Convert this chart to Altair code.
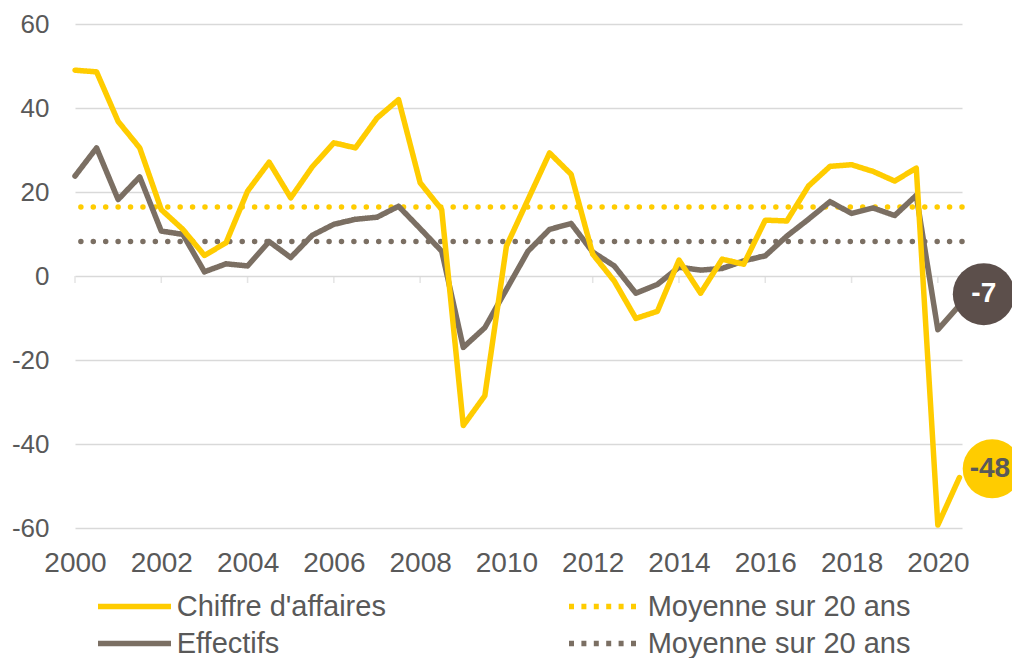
import altair as alt
import pandas as pd

# half-year periods
periods = [2000.0, 2000.5, 2001.0, 2001.5, 2002.0, 2002.5, 2003.0, 2003.5,
           2004.0, 2004.5, 2005.0, 2005.5, 2006.0, 2006.5, 2007.0, 2007.5,
           2008.0, 2008.5, 2009.0, 2009.5, 2010.0, 2010.5, 2011.0, 2011.5,
           2012.0, 2012.5, 2013.0, 2013.5, 2014.0, 2014.5, 2015.0, 2015.5,
           2016.0, 2016.5, 2017.0, 2017.5, 2018.0, 2018.5, 2019.0, 2019.5,
           2020.0, 2020.5]

chiffre = [49.0, 48.6, 36.8, 30.5, 15.8, 11.1, 4.9, 7.9,
           20.2, 27.1, 18.6, 26.0, 31.7, 30.5, 37.6, 42.0,
           22.2, 15.8, -35.6, -28.5, 7.1, 18.2, 29.3, 24.2,
           5.2, -1.2, -10.1, -8.4, 3.8, -4.1, 4.0, 2.8,
           13.3, 13.1, 21.4, 26.1, 26.5, 24.9, 22.6, 25.7,
           -59.3, -48.0]

effectifs = [23.8, 30.5, 18.2, 23.6, 10.7, 9.9, 1.0, 2.9,
             2.4, 8.2, 4.4, 9.7, 12.3, 13.5, 14.0, 16.6,
             11.3, 5.9, -17.0, -12.3, -3.2, 5.9, 11.1, 12.5,
             5.7, 2.4, -4.1, -2.0, 2.1, 1.4, 1.8, 3.6,
             4.8, 9.5, 13.5, 17.7, 14.9, 16.2, 14.4, 19.2,
             -12.8, -7.0]

moy_chiffre = 16.4
moy_effectifs = 8.2

year_ticks = [2000, 2002, 2004, 2006, 2008, 2010, 2012, 2014, 2016, 2018, 2020]
y_ticks = [-60, -40, -20, 0, 20, 40, 60]

CA = "Chiffre d'affaires"
MOY_CA = "Moyenne sur 20 ans"
EFF = "Effectifs"
MOY_EFF = "Moyenne sur 20 ans "   # trailing space keeps the two entries distinct
series_names = [CA, EFF, MOY_CA, MOY_EFF]

last_effectifs_label = "-7"
last_chiffre_label = "-48"

YEL = "#FFCC00"
GRY = "#7B6F63"
DARK = "#5C4F4B"
TXT = "#595959"
GRID = "#D9D9D9"
FONT = "Liberation Sans"

ca_df = pd.DataFrame({"x": periods, "y": chiffre, "s": [CA] * len(periods)})
eff_df = pd.DataFrame({"x": periods, "y": effectifs, "s": [EFF] * len(periods)})
moy_df = pd.DataFrame({"y": [moy_chiffre, moy_effectifs], "s": [MOY_CA, MOY_EFF]})
tick_df = pd.DataFrame({"x": year_ticks})
lab_eff = pd.DataFrame({"x": [periods[-1]], "y": [effectifs[-1]], "t": [last_effectifs_label]})
lab_ca = pd.DataFrame({"x": [periods[-1]], "y": [chiffre[-1]], "t": [last_chiffre_label]})

xscale = alt.Scale(domain=[2000, 2020.56], nice=False, zero=False)
yscale = alt.Scale(domain=[-60, 60], nice=False, zero=False)

xaxis = alt.Axis(values=year_ticks, format="d", ticks=False, domain=False, grid=False,
                 labelFontSize=28, labelColor=TXT, labelFont=FONT, labelPadding=21,
                 title=None, labelFlush=False, labelOverlap=False)
yaxis = alt.Axis(values=y_ticks, grid=True, gridColor=GRID, gridWidth=1.5, ticks=False,
                 domain=False, labelFontSize=26, labelColor=TXT, labelFont=FONT,
                 labelPadding=26, title=None, labelExpr="datum.value + ''")

X = alt.X("x:Q", scale=xscale, axis=xaxis)
Y = alt.Y("y:Q", scale=yscale, axis=yaxis)

legend = alt.Legend(title=None, orient="none", legendX=20, legendY=564, columns=2,
                    symbolType="stroke", symbolSize=5329, symbolStrokeWidth=5.5,
                    labelFontSize=29, labelColor=TXT, labelFont=FONT, labelLimit=500,
                    labelOffset=2.7, columnPadding=180, rowPadding=0, clipHeight=37,
                    padding=0)

color = alt.Color("s:N", scale=alt.Scale(domain=series_names, range=[YEL, GRY, YEL, GRY]),
                  legend=legend)
dash = alt.StrokeDash("s:N", scale=alt.Scale(domain=series_names,
                                             range=[[1, 0], [1, 0], [5, 7.4], [5, 7.4]]),
                      legend=legend)

ticks = alt.Chart(tick_df).mark_tick(orient="vertical", size=7, thickness=1.5,
                                     color=GRID, yOffset=3.5).encode(
    x=X, y=alt.datum(0))

means = alt.Chart(moy_df).mark_rule(strokeWidth=5.5, strokeDash=[0.01, 12.4],
                                    strokeCap="round").encode(y=Y, color=color)

line_eff = alt.Chart(eff_df).mark_line(strokeWidth=5.5, strokeJoin="round",
                                       strokeCap="round").encode(
    x=X, y=Y, color=color, strokeDash=dash)
line_ca = alt.Chart(ca_df).mark_line(strokeWidth=5.5, strokeJoin="round",
                                     strokeCap="round").encode(
    x=X, y=Y, color=color, strokeDash=dash)

circ_eff = alt.Chart(lab_eff).mark_circle(size=3844, color=DARK, opacity=1,
                                          xOffset=24.4, yOffset=-11.2).encode(x=X, y=Y)
text_eff = alt.Chart(lab_eff).mark_text(fontSize=28, fontWeight="bold", color="white",
                                        font=FONT, align="center", baseline="middle",
                                        dx=24.4, dy=-11.2).encode(x=X, y=Y, text="t:N")
circ_ca = alt.Chart(lab_ca).mark_circle(size=3481, color=YEL, opacity=1,
                                        xOffset=32.8, yOffset=-8.8).encode(x=X, y=Y)
text_ca = alt.Chart(lab_ca).mark_text(fontSize=28, fontWeight="bold", color=TXT,
                                      font=FONT, align="center", baseline="middle",
                                      dx=30.5, dy=-8.8).encode(x=X, y=Y, text="t:N")

chart = alt.layer(
    ticks, means, line_eff, line_ca, circ_eff, text_eff, circ_ca, text_ca
).properties(
    width=887, height=504,
    autosize=alt.AutoSizeParams(type="none"),
    padding={"left": 67, "top": 16, "right": 50, "bottom": 130},
).configure(font=FONT).configure_view(stroke=None)

chart.save("out.html", embed_options={"renderer": "svg", "actions": False})
